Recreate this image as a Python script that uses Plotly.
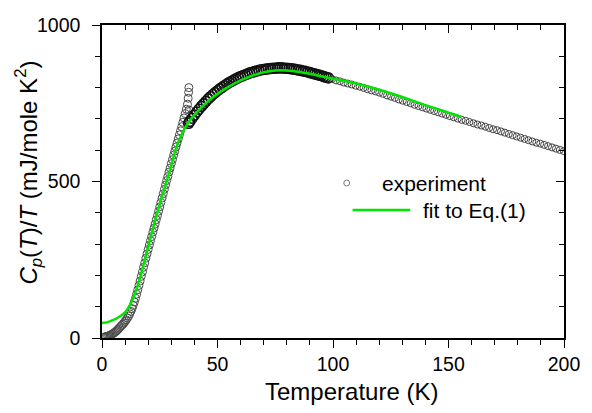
import plotly.graph_objects as go

# ---- measured Cp/T (mJ/mole K^2) vs temperature (K) ----
# low-temperature run
t_low = [0.5, 1.0, 1.5, 2.0, 2.5, 3.0, 3.5, 4.0, 4.5, 5.0, 5.5, 6.0, 6.5, 7.0, 7.5,
         8.0, 8.5, 9.0, 9.5, 10.0, 10.5, 11.0, 11.5, 12.0, 12.5, 13.0, 13.5, 14.0,
         14.5, 15.0, 15.5, 16.0, 16.5, 17.0, 17.5, 18.0, 18.5, 19.0, 19.5, 20.0,
         20.5, 21.0, 21.5, 22.0, 22.5, 23.0, 23.5, 24.0, 24.5, 25.0, 25.5, 26.0,
         26.5, 27.0, 27.5, 28.0, 28.5, 29.0, 29.5, 30.0, 30.5, 31.0, 31.5, 32.0,
         32.5, 33.0, 33.5, 34.0, 34.5, 35.0, 35.5, 36.0, 36.5, 37.0, 37.3, 37.5,
         37.6, 37.7]
cp_low = [2, 3, 4, 5, 6, 7, 9, 11, 13, 15, 18, 21, 24, 28, 32,
          36, 40, 44, 48, 53, 58, 64, 70, 77, 85, 94, 104, 115,
          127, 140, 154, 168, 182, 197, 211, 226, 240, 255, 269, 283,
          297, 311, 324, 338, 351, 364, 378, 391, 405, 419, 433, 447,
          461, 475, 489, 503, 516, 530, 543, 557, 570, 584, 597, 610,
          623, 636, 649, 662, 675, 689, 703, 717, 731, 747, 766, 785,
          800, 728]

# dense run through the maximum
t_mid = [37.5, 38, 39, 40, 41, 42, 43, 44, 45, 46, 47, 48, 49, 50, 51, 52, 53,
         54, 55, 56, 57, 58, 59, 60, 61, 62, 63, 64, 65, 66, 67, 68, 69, 70,
         71, 72, 73, 74, 75, 76, 77, 78, 79, 80, 81, 82, 83, 84, 85, 86, 87,
         88, 89, 90, 91, 92, 93, 94, 95, 96, 97, 98]
cp_mid = [686, 692, 702, 712, 722, 731, 740, 748, 756, 764, 771, 778, 784, 790,
          796, 801, 806, 811, 816, 820, 824, 828, 832, 835, 838, 841, 844, 847,
          849, 851, 853, 855, 857, 858, 859, 860, 861, 862, 862, 863, 863, 863,
          862, 862, 861, 860, 859, 858, 856, 855, 853, 852, 850, 848, 846, 844,
          842, 840, 838, 835, 833, 831]

# high-temperature run
t_high = [99.6, 101.3, 103.0, 104.7, 106.4, 108.1, 109.8, 111.5, 113.2, 114.9,
          116.6, 118.3, 120.0, 121.7, 123.4, 125.1, 126.8, 128.5, 130.2, 131.9,
          133.6, 135.3, 137.0, 138.7, 140.4, 142.1, 143.8, 145.5, 147.2, 148.9,
          150.6, 152.3, 154.0, 155.7, 157.4, 159.1, 160.8, 162.5, 164.2, 165.9,
          167.6, 169.3, 171.0, 172.7, 174.4, 176.1, 177.8, 179.5, 181.2, 182.9,
          184.6, 186.3, 188.0, 189.7, 191.4, 193.1, 194.8, 196.5, 198.2, 199.9]
cp_high = [827, 823, 820, 816, 813, 810, 806, 803, 799, 795,
           791, 788, 784, 780, 775, 771, 767, 762, 758, 754,
           750, 745, 741, 737, 733, 729, 725, 721, 717, 713,
           709, 705, 701, 697, 694, 690, 686, 682, 679, 675,
           671, 667, 664, 660, 656, 652, 648, 644, 640, 636,
           632, 628, 624, 621, 617, 613, 609, 605, 601, 597]

# fit to Eq.(1)
t_fit = [0, 2, 4, 6, 8, 10, 12, 14, 16, 18, 20, 22, 24, 26, 28, 30, 32, 34, 36,
         38, 40, 42, 45, 50, 55, 60, 65, 70, 75, 80, 85, 90, 95, 100, 110, 120,
         130, 140, 150, 155.5]
cp_fit = [48, 50, 55, 61, 70, 82, 104, 136, 180, 235, 292, 348, 402, 453, 502,
          552, 605, 643, 672, 695, 713, 729, 751, 780, 803, 823, 838, 849, 855,
          855, 851, 844, 836, 828, 813, 793, 770, 744, 720, 707]

FONT = "Liberation Sans, Arial, sans-serif"
GREEN = "#00e600"

fig = go.Figure()

fig.add_trace(go.Scatter(
    x=t_low, y=cp_low, mode="markers", showlegend=False,
    marker=dict(symbol="circle-open", size=8, color="#4a4a4a",
                line=dict(width=1, color="#4a4a4a")),
    hoverinfo="skip"))
fig.add_trace(go.Scatter(
    x=t_mid, y=cp_mid, mode="markers", showlegend=False,
    marker=dict(symbol="circle-open", size=10, color="#111111",
                line=dict(width=1.6, color="#111111")),
    hoverinfo="skip"))
fig.add_trace(go.Scatter(
    x=t_high, y=cp_high, mode="markers", showlegend=False,
    marker=dict(symbol="circle-open", size=7, color="#444444",
                line=dict(width=1, color="#444444")),
    hoverinfo="skip"))
fig.add_trace(go.Scatter(
    x=t_fit, y=cp_fit, mode="lines", showlegend=False,
    line=dict(color=GREEN, width=2.5, shape="spline", smoothing=0.8),
    hoverinfo="skip"))

# empty trace that carries the mirrored top/right axes
fig.add_trace(go.Scatter(x=[None], y=[None], xaxis="x2", yaxis="y2",
                         showlegend=False, hoverinfo="skip"))

axis_common = dict(showline=True, linecolor="black", linewidth=1.5,
                   showgrid=False, zeroline=False, tickcolor="black",
                   tickwidth=1.3)

fig.update_layout(
    width=592, height=413,
    margin=dict(l=102, r=18, t=25, b=75),
    paper_bgcolor="white", plot_bgcolor="white",
    font=dict(family=FONT, color="black", size=20),
    xaxis=dict(range=[0, 200], tick0=0, dtick=50, ticks="outside", ticklen=8,
               tickfont=dict(size=19.5),
               minor=dict(dtick=10, ticks="outside", ticklen=5,
                          tickcolor="black", tickwidth=1.3),
               **axis_common),
    yaxis=dict(range=[0, 1000], tick0=0, dtick=500, ticks="outside", ticklen=8,
               tickfont=dict(size=19.5), ticklabelstandoff=8,
               minor=dict(dtick=100, ticks="outside", ticklen=5,
                          tickcolor="black", tickwidth=1.3),
               **axis_common),
    xaxis2=dict(range=[0, 200], overlaying="x", side="top", anchor="y",
                tick0=0, dtick=50, ticks="inside", ticklen=8,
                showticklabels=False,
                minor=dict(dtick=10, ticks="inside", ticklen=5,
                           tickcolor="black", tickwidth=1.3),
                **axis_common),
    yaxis2=dict(range=[0, 1000], overlaying="y", side="right", anchor="x",
                tick0=0, dtick=500, ticks="inside", ticklen=8,
                showticklabels=False,
                minor=dict(dtick=100, ticks="inside", ticklen=5,
                           tickcolor="black", tickwidth=1.3),
                **axis_common),
)

# axis titles
fig.add_annotation(
    text="Temperature (K)", xref="paper", yref="paper",
    x=0.541, y=-0.17, xanchor="center", yanchor="middle",
    showarrow=False, font=dict(size=24, family=FONT))
fig.add_annotation(
    text="<i>C</i><sub><i>p</i></sub>(<i>T</i>)/<i>T</i> (mJ/mole K<sup>2</sup>)",
    xref="paper", yref="paper", x=-0.159, y=0.527, textangle=-90,
    xanchor="center", yanchor="middle", showarrow=False,
    font=dict(size=24, family=FONT))

# legend box inside the plot
fig.add_shape(type="circle", xref="paper", yref="paper",
              x0=(349 - 102) / 472, x1=(355 - 102) / 472,
              y0=(338 - 186) / 313, y1=(338 - 180) / 313,
              line=dict(color="#777777", width=1))
fig.add_annotation(text="experiment", xref="paper", yref="paper",
                   x=(386 - 102) / 472, y=(338 - 183) / 313,
                   xanchor="left", yanchor="middle", showarrow=False,
                   font=dict(size=21, family=FONT))
fig.add_shape(type="line", xref="paper", yref="paper",
              x0=(358 - 102) / 472, x1=(417 - 102) / 472,
              y0=(338 - 210) / 313, y1=(338 - 210) / 313,
              line=dict(color=GREEN, width=2.5))
fig.add_annotation(text="fit to Eq.(1)", xref="paper", yref="paper",
                   x=(428 - 102) / 472, y=(338 - 210) / 313,
                   xanchor="left", yanchor="middle", showarrow=False,
                   font=dict(size=21, family=FONT))

fig.write_html("out.html")
